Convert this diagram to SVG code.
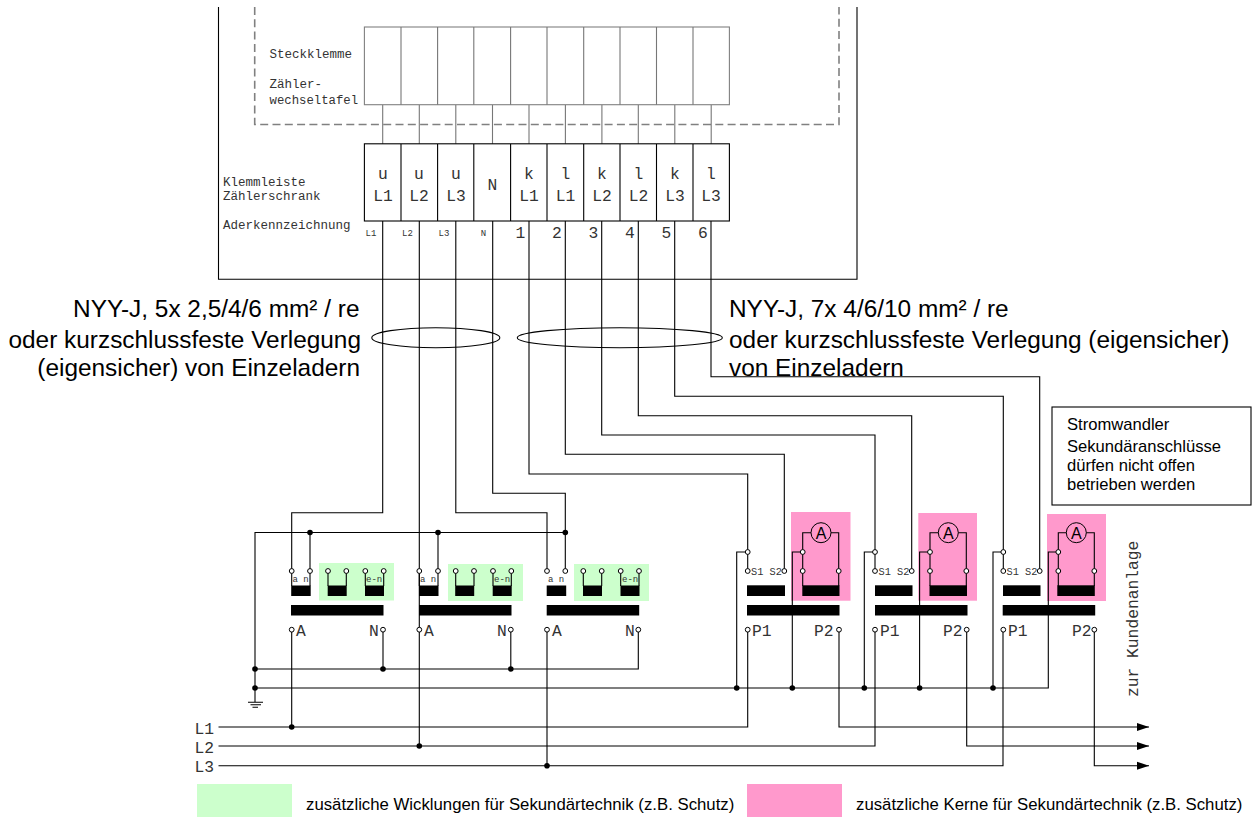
<svg xmlns="http://www.w3.org/2000/svg" width="1256" height="817" viewBox="0 0 1256 817">
<style>
.w{fill:none;stroke:#000;stroke-width:1.1}
.g{fill:none;stroke:#777;stroke-width:1.1}
.d{fill:none;stroke:#808080;stroke-width:1.6;stroke-dasharray:8 4.3}
.box{fill:#fff;stroke:#000;stroke-width:1.1}
.bar{fill:#000}
.grn{fill:#ccffcc}
.pnk{fill:#ff99cc}
.o{fill:#fff;stroke:#000;stroke-width:1}
.j{fill:#000}
.m{font-family:"Liberation Mono",monospace;fill:#333}
.s{font-family:"Liberation Sans",Arial,sans-serif;fill:#000}
.t12{font-size:12.5px}.t15{font-size:16.3px}.t9{font-size:9px}.t10{font-size:10.3px}
.big{font-size:24.4px}.sm{font-size:16.6px}.leg{font-size:16.75px}
.c{text-anchor:middle}.r{text-anchor:end}
</style>
<defs>
<marker id="ah" markerUnits="userSpaceOnUse" markerWidth="12" markerHeight="10" refX="12" refY="5" orient="auto"><path d="M0 1L12 5L0 9Z" fill="#000"/></marker>
<circle id="op" r="2.4" class="o"/>
<circle id="dot" r="2.8" class="j"/>
</defs>
<g id="fills">
<rect class="grn" x="319" y="563" width="75" height="37.5"/>
<rect class="grn" x="448" y="564" width="75" height="37"/>
<rect class="grn" x="574" y="564" width="75" height="37"/>
<rect class="pnk" x="791" y="512" width="59.5" height="88.7"/>
<rect class="pnk" x="918.3" y="513" width="58.7" height="87.7"/>
<rect class="pnk" x="1047" y="514" width="59" height="87"/>
</g>
<g id="cabinet">
<path class="w" d="M218.5 7V279.3H857V7"/>
<path class="d" d="M254.7 7V124.5H839V7"/>
</g>
<g id="connectors">
<path class="g" d="M382.7 104.7V144M419.3 104.7V144M455.8 104.7V144M492.5 104.7V144M529 104.7V144M565.4 104.7V144M601.9 104.7V144M638.3 104.7V144M674.8 104.7V144M711.2 104.7V144"/>
<path class="w" d="M382.7 221V512.7H291.7V571"/>
<path class="w" d="M419.3 221V746"/>
<path class="w" d="M455.8 221V512.7H547V571"/>
<path class="w" d="M492.7 221V493.3H565.3V571"/>
<path class="w" d="M529 221V474H747.7V571"/>
<path class="w" d="M565.3 221V454.3H784.3V571"/>
<path class="w" d="M601.7 221V435H875V571"/>
<path class="w" d="M638.3 221V415.7H911.7V571"/>
<path class="w" d="M674.7 221V396.3H1003.3V571"/>
<path class="w" d="M711 221V376.7H1039.7V571"/>
<path class="w" d="M255 702V532.5H565.3"/>
<path class="w" d="M310 532.5V571M438 532.5V571"/>
<path class="w" d="M255 669H638.3V629.7M383 629.7V669M510.8 629.7V669"/>
<path class="w" d="M255 688H1048.3V552H1058.3"/>
<path class="w" d="M736.7 688V552H747.7M864.3 688V552H875M993 688V552H1003.3"/>
<path class="w" d="M792.3 688V552H802.7M919.6 688V552H930"/>
<path class="w" d="M291.7 629.7V727M547 629.7V765.7"/>
<path class="w" d="M218.5 727H747.7V629.7"/>
<path class="w" d="M218.5 746H875V629.7"/>
<path class="w" d="M218.5 765.7H1003V629.7"/>
<path class="w" marker-end="url(#ah)" d="M839 629.7V727H1149"/>
<path class="w" marker-end="url(#ah)" d="M966.7 629.7V746H1149"/>
<path class="w" marker-end="url(#ah)" d="M1094.3 629.7V765.7H1149"/>
<path class="w" d="M248 702.3H263M250.5 704.8H261M252.5 707.3H258"/>
<ellipse class="w" cx="435.8" cy="337.7" rx="64" ry="10"/>
<ellipse class="w" cx="619.8" cy="337.7" rx="102.5" ry="10"/>
<use href="#dot" x="310" y="532.5"/><use href="#dot" x="438" y="532.5"/><use href="#dot" x="565.3" y="532.5"/>
<use href="#dot" x="255" y="669"/><use href="#dot" x="255" y="688"/><use href="#dot" x="383" y="669"/><use href="#dot" x="510.8" y="669"/>
<use href="#dot" x="736.7" y="688"/><use href="#dot" x="792.3" y="688"/><use href="#dot" x="864.3" y="688"/><use href="#dot" x="919.6" y="688"/><use href="#dot" x="993" y="688"/>
<use href="#dot" x="291.7" y="727"/><use href="#dot" x="419.3" y="746"/><use href="#dot" x="547" y="765.7"/>
</g>
<g id="steckklemme">
<rect x="364.4" y="27" width="365" height="77.7" fill="#fff" stroke="#808080" stroke-width="1.1"/>
<path class="g" d="M401 27V104.7M437.6 27V104.7M473.8 27V104.7M510.6 27V104.7M547 27V104.7M583.7 27V104.7M620 27V104.7M656.5 27V104.7M693 27V104.7"/>
<g class="m t12"><text x="269.5" y="58">Steckklemme</text><text x="269.5" y="88">Zähler-</text><text x="269.5" y="104" style="font-size:12.3px">wechseltafel</text></g>
</g>
<g id="klemmleiste">
<rect class="box" x="364.4" y="143.8" width="365" height="77.2"/>
<path class="w" d="M401 144V221M437.6 144V221M473.8 144V221M510.6 144V221M547 144V221M583.7 144V221M620 144V221M656.5 144V221M693 144V221"/>
<g class="m t12"><text x="223" y="186">Klemmleiste</text><text x="223" y="200">Zählerschrank</text><text x="223" y="229">Aderkennzeichnung</text></g>
<g class="m t15 c">
<text x="383" y="179">u</text><text x="383" y="201">L1</text>
<text x="419" y="179">u</text><text x="419" y="201">L2</text>
<text x="456" y="179">u</text><text x="456" y="201">L3</text>
<text x="492.5" y="190">N</text>
<text x="529" y="179">k</text><text x="529" y="201">L1</text>
<text x="565.5" y="179">l</text><text x="565.5" y="201">L1</text>
<text x="602" y="179">k</text><text x="602" y="201">L2</text>
<text x="638.5" y="179">l</text><text x="638.5" y="201">L2</text>
<text x="675" y="179">k</text><text x="675" y="201">L3</text>
<text x="711" y="179">l</text><text x="711" y="201">L3</text>
</g>
<g class="m t9 c"><text x="371" y="236">L1</text><text x="407.5" y="236">L2</text><text x="444" y="236">L3</text><text x="483.5" y="236">N</text></g>
<g class="m t15 c"><text x="520.5" y="238">1</text><text x="557" y="238">2</text><text x="593.5" y="238">3</text><text x="630" y="238">4</text><text x="666.5" y="238">5</text><text x="703" y="238">6</text></g>
</g>
<g id="uw1">
<path class="w" d="M328 571V586M346.3 571V586M365.3 571V586M383.7 571V586M291.7 571V586M310 571V586"/>
<rect class="bar" x="291.2" y="585.5" width="19.5" height="10.5"/><rect class="bar" x="327.7" y="585.5" width="19" height="10.5"/><rect class="bar" x="365" y="585.5" width="19" height="10.5"/>
<rect class="bar" x="291" y="605" width="92.5" height="10.5"/>
<use href="#op" x="291.7" y="571"/><use href="#op" x="310" y="571"/><use href="#op" x="328" y="571"/><use href="#op" x="346.3" y="571"/><use href="#op" x="365.3" y="571"/><use href="#op" x="383.7" y="571"/>
<use href="#op" x="291.7" y="629.7"/><use href="#op" x="383" y="629.7"/>
<g class="m t9"><text x="292.5" y="582">a n</text><text x="366" y="582">e-n</text></g>
<g class="m t15"><text x="296" y="636">A</text><text x="369" y="636">N</text></g>
</g>
<g id="uw2">
<path class="w" d="M455.7 571V586M474 571V586M493 571V586M511.3 571V586M419.3 571V586M438 571V586"/>
<rect class="bar" x="419" y="585.5" width="19.5" height="10.5"/><rect class="bar" x="455.2" y="585.5" width="19" height="10.5"/><rect class="bar" x="492.7" y="585.5" width="19" height="10.5"/>
<rect class="bar" x="419" y="605" width="92.5" height="10.5"/>
<use href="#op" x="419.3" y="571"/><use href="#op" x="438" y="571"/><use href="#op" x="455.7" y="571"/><use href="#op" x="474" y="571"/><use href="#op" x="493" y="571"/><use href="#op" x="511.3" y="571"/>
<use href="#op" x="419.3" y="629.7"/><use href="#op" x="510.8" y="629.7"/>
<g class="m t9"><text x="420" y="582">a n</text><text x="494" y="582">e-n</text></g>
<g class="m t15"><text x="424" y="636">A</text><text x="497" y="636">N</text></g>
</g>
<g id="uw3">
<path class="w" d="M583.3 571V586M601.7 571V586M620.7 571V586M639 571V586"/>
<rect class="bar" x="546.7" y="585.5" width="19.5" height="10.5"/><rect class="bar" x="583" y="585.5" width="19" height="10.5"/><rect class="bar" x="620.5" y="585.5" width="19" height="10.5"/>
<rect class="bar" x="546.7" y="605" width="92.5" height="10.5"/>
<use href="#op" x="547" y="571"/><use href="#op" x="565.3" y="571"/><use href="#op" x="583.3" y="571"/><use href="#op" x="601.7" y="571"/><use href="#op" x="620.7" y="571"/><use href="#op" x="639" y="571"/>
<use href="#op" x="547" y="629.7"/><use href="#op" x="638.3" y="629.7"/>
<g class="m t9"><text x="548" y="582">a n</text><text x="622" y="582">e-n</text></g>
<g class="m t15"><text x="552" y="636">A</text><text x="625" y="636">N</text></g>
</g>
<g id="sw1">
<path class="w" d="M802.7 586V532.7H811M831 532.7H838.7V586"/>
<rect class="bar" x="747" y="585.3" width="38" height="10.7"/><rect class="bar" x="802.3" y="585.3" width="37.2" height="10.7"/>
<rect class="bar" x="747" y="605" width="92.5" height="10.5"/>
<circle cx="821" cy="532.7" r="10" fill="none" stroke="#000"/>
<text class="s c" font-size="16" x="821" y="538.5">A</text>
<use href="#op" x="747.7" y="552"/><use href="#op" x="802.7" y="552"/><use href="#op" x="747.7" y="571"/><use href="#op" x="784.3" y="571"/><use href="#op" x="802.7" y="571"/><use href="#op" x="838.7" y="571"/>
<use href="#op" x="747.7" y="629.7"/><use href="#op" x="839" y="629.7"/>
<text class="m t10" x="751" y="575">S1 S2</text>
<g class="m t15"><text x="752" y="636">P1</text><text x="814" y="636">P2</text></g>
</g>
<g id="sw2">
<path class="w" d="M930 586V532.7H938.3M958.3 532.7H966.3V586"/>
<rect class="bar" x="875" y="585.3" width="37.5" height="10.7"/><rect class="bar" x="929.5" y="585.3" width="37.5" height="10.7"/>
<rect class="bar" x="875" y="605" width="92.5" height="10.5"/>
<circle cx="948.3" cy="532.7" r="10" fill="none" stroke="#000"/>
<text class="s c" font-size="16" x="948.3" y="538.5">A</text>
<use href="#op" x="875" y="552"/><use href="#op" x="930" y="552"/><use href="#op" x="875" y="571"/><use href="#op" x="911.7" y="571"/><use href="#op" x="930" y="571"/><use href="#op" x="966.3" y="571"/>
<use href="#op" x="875" y="629.7"/><use href="#op" x="966.7" y="629.7"/>
<text class="m t10" x="878.5" y="575">S1 S2</text>
<g class="m t15"><text x="880" y="636">P1</text><text x="943" y="636">P2</text></g>
</g>
<g id="sw3">
<path class="w" d="M1058.3 586V532.7H1066.3M1086.3 532.7H1094.3V586"/>
<rect class="bar" x="1003" y="585.3" width="37.5" height="10.7"/><rect class="bar" x="1057.3" y="585.3" width="37.5" height="10.7"/>
<rect class="bar" x="1002.7" y="605" width="92.5" height="10.5"/>
<circle cx="1076.3" cy="532.7" r="10" fill="none" stroke="#000"/>
<text class="s c" font-size="16" x="1076.3" y="538.5">A</text>
<use href="#op" x="1003.3" y="552"/><use href="#op" x="1058.3" y="552"/><use href="#op" x="1003.3" y="571"/><use href="#op" x="1039.7" y="571"/><use href="#op" x="1058.3" y="571"/><use href="#op" x="1094.3" y="571"/>
<use href="#op" x="1003.3" y="629.7"/><use href="#op" x="1094.3" y="629.7"/>
<text class="m t10" x="1006.5" y="575">S1 S2</text>
<g class="m t15"><text x="1008" y="636">P1</text><text x="1072" y="636">P2</text></g>
</g>
<g id="netz" class="m t15"><text x="194.5" y="734">L1</text><text x="194.5" y="753">L2</text><text x="194.5" y="772">L3</text>
<text transform="translate(1138 697) rotate(-90)">zur Kundenanlage</text></g>
<g id="kabel1" class="s big r"><text x="359.5" y="317">NYY-J, 5x 2,5/4/6 mm² / re</text><text x="361" y="348">oder kurzschlussfeste Verlegung</text><text x="360" y="376">(eigensicher) von Einzeladern</text></g>
<g id="kabel2" class="s big"><text x="729" y="317">NYY-J, 7x 4/6/10 mm² / re</text><text x="729" y="348">oder kurzschlussfeste Verlegung (eigensicher)</text><text x="729" y="376">von Einzeladern</text></g>
<g id="hinweis"><rect x="1052" y="407" width="199" height="98" fill="#fff" stroke="#000" stroke-width="1.1"/>
<g class="s sm"><text x="1067" y="430">Stromwandler</text><text x="1067" y="452">Sekundäranschlüsse</text><text x="1067" y="471">dürfen nicht offen</text><text x="1067" y="490">betrieben werden</text></g></g>
<g id="legende"><rect class="grn" x="197" y="784" width="95" height="33"/><rect class="pnk" x="747" y="784" width="95" height="33"/>
<g class="s leg"><text x="306" y="810">zusätzliche Wicklungen für Sekundärtechnik (z.B. Schutz)</text><text x="856" y="810">zusätzliche Kerne für Sekundärtechnik (z.B. Schutz)</text></g></g>
</svg>
